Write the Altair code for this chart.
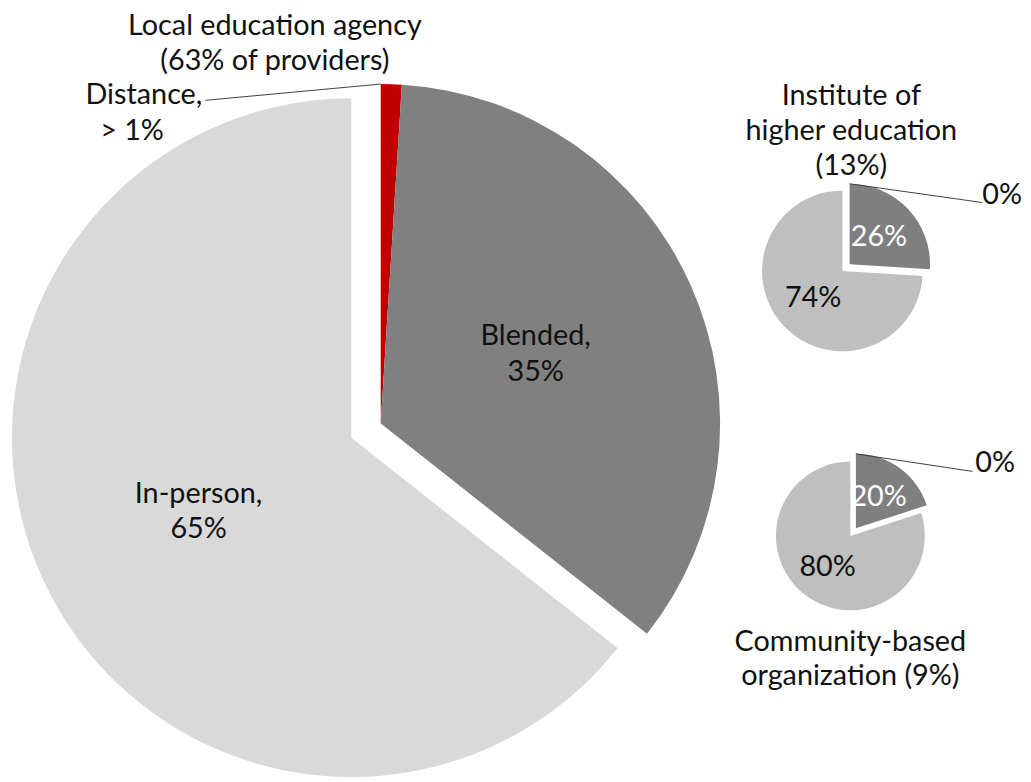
import altair as alt
import pandas as pd

# ---------------- data ----------------
modes = ["Distance", "Blended", "In-person"]
exploded_modes = ["Distance", "Blended"]
lea_share = [1, 35, 65]   # Local education agency
ihe_share = [0, 26, 74]   # Institute of higher education
cbo_share = [0, 20, 80]   # Community-based organization
provider_pct = [63, 13, 9]

pies = ["LEA", "IHE", "CBO"]
shares = [lea_share, ihe_share, cbo_share]

rows = []
for pie, vals in zip(pies, shares):
    for i, (m, v) in enumerate(zip(modes, vals)):
        label = f"{m},\n{v}%" if pie == "LEA" else f"{v}%"
        rows.append({"pie": pie, "mode": m, "order": i, "value": v,
                     "exploded": m in exploded_modes, "label": label})
df = pd.DataFrame(rows)

FONT = "Lato"
FS = 29
TXT = "#111111"
W, H = 1023, 774


def pie_layers(name, cx, cy, R, explode, label_frac, colors, dark_label, leader_end, label_dy):
    base = (
        alt.Chart(df)
        .transform_filter(alt.datum.pie == name)
        .transform_window(cum="sum(value)", sort=[alt.SortField("order")], frame=[None, 0])
        .transform_joinaggregate(total="sum(value)")
        .transform_calculate(
            t1="2*PI*datum.cum/datum.total",
            t0="2*PI*(datum.cum - datum.value)/datum.total",
        )
        .transform_joinaggregate(g0="min(t0)", g1="max(t1)", groupby=["exploded"])
        .transform_calculate(
            gmid="(datum.g0 + datum.g1)/2",
            off=f"datum.exploded ? {explode} : 0",
            mid="(datum.t0 + datum.t1)/2",
        )
        .transform_calculate(
            px=f"{cx} + datum.off*sin(datum.gmid)",
            py=f"{cy} - datum.off*cos(datum.gmid)",
        )
        .transform_calculate(
            lx=f"datum.px + {label_frac * R}*sin(datum.mid)",
            ly=f"datum.py - {label_frac * R}*cos(datum.mid)",
            ox=f"datum.px + {R}*sin(datum.t0)",
            oy=f"datum.py - {R}*cos(datum.t0)",
        )
    )
    arcs = base.mark_arc(radius=R).encode(
        x=alt.X("px:Q", scale=None, axis=None),
        y=alt.Y("py:Q", scale=None, axis=None),
        theta=alt.Theta("t0:Q", scale=None),
        theta2="t1:Q",
        color=alt.Color("mode:N", scale=alt.Scale(domain=modes, range=colors), legend=None),
    )
    labels = base.transform_filter(alt.datum.mode != "Distance").mark_text(
        font=FONT, fontSize=FS, lineBreak="\n", lineHeight=36,
        baseline="middle", align="center", dy=label_dy,
    ).encode(
        x=alt.X("lx:Q", scale=None, axis=None),
        y=alt.Y("ly:Q", scale=None, axis=None),
        text="label:N",
        color=alt.condition(alt.datum.mode == "Blended", alt.value(dark_label), alt.value(TXT)),
    )
    leader = base.transform_filter(alt.datum.mode == "Distance").mark_rule(
        color="#404040", strokeWidth=1
    ).encode(
        x=alt.X("ox:Q", scale=None, axis=None),
        y=alt.Y("oy:Q", scale=None, axis=None),
        x2=alt.value(leader_end[0]),
        y2=alt.value(leader_end[1]),
    )
    return [arcs, labels, leader]


def note(text, x, y, lh=35):
    return alt.Chart(pd.DataFrame({"t": [text]})).mark_text(
        font=FONT, fontSize=FS, lineBreak="\n", lineHeight=lh,
        align="center", baseline="alphabetic", color=TXT,
    ).encode(x=alt.value(x), y=alt.value(y), text="t:N")


layers = []
layers += pie_layers("LEA", 346, 430, 342, 33, 0.5,
                     ["#c00000", "#808080", "#d9d9d9"], TXT, (199, 90), -18)
layers += pie_layers("IHE", 841, 262, 81, 10, 0.5,
                     ["#7f7f7f", "#7f7f7f", "#bfbfbf"], "#ffffff", (982, 193), 0)
layers += pie_layers("CBO", 849, 529, 75, 9.5, 0.52,
                     ["#7f7f7f", "#7f7f7f", "#bfbfbf"], "#ffffff", (972, 464), 0)

layers += [
    note(f"Local education agency\n({provider_pct[0]}% of providers)", 269, 24),
    note(f"{modes[0]},", 137, 94),
    note(f"> {lea_share[0]}%", 125, 130),
    note(f"Institute of\nhigher education\n({provider_pct[1]}%)", 850, 95),
    note(f"{ihe_share[0]}%", 1002, 194),
    note(f"{cbo_share[0]}%", 995, 465),
    note(f"Community-based\norganization ({provider_pct[2]}%)", 849, 645, 34),
]

chart = (
    alt.layer(*layers)
    .resolve_scale(color="independent")
    .properties(width=W, height=H, padding=0, autosize=alt.AutoSizeParams(type="none"))
    .configure_view(stroke=None)
)

chart.save("out.html", embed_options={"renderer": "svg", "actions": False})
